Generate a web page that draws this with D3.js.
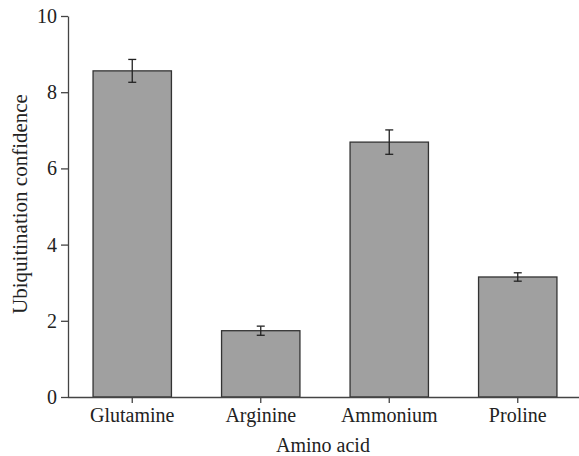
<!DOCTYPE html>
<html>
<head>
<meta charset="utf-8">
<script src="https://cdn.jsdelivr.net/npm/d3@7"></script>
<style>
  body { margin: 0; background: #fff; }
  text { font-family: "Liberation Serif", "DejaVu Serif", serif; fill: #222; }
</style>
</head>
<body>
<svg width="579" height="456"></svg>
<script>
// chart data
var categories = ["Glutamine", "Arginine", "Ammonium", "Proline"];
var means = [8.56, 1.74, 6.69, 3.15];
var errors = [0.30, 0.12, 0.32, 0.11];
var yTicks = [0, 2, 4, 6, 8, 10];

(function(){
  var svg = d3.select("svg");
  var mLeft = 68, mRight = 582, mTop = 16, mBottom = 397;

  var x = d3.scaleBand()
    .domain(categories)
    .range([mLeft, mRight])
    .paddingInner(0.39)
    .paddingOuter(0.195);

  var y = d3.scaleLinear().domain([0, 10]).range([mBottom, mTop]);

  var rows = categories.map(function(c, i){ return {name: c, v: means[i], e: errors[i]}; });

  // bars
  svg.selectAll(".bar").data(rows).enter().append("rect")
    .attr("class", "bar")
    .attr("x", function(d){ return x(d.name); })
    .attr("y", function(d){ return y(d.v); })
    .attr("width", x.bandwidth())
    .attr("height", function(d){ return y(0) - y(d.v); })
    .attr("fill", "#a0a0a0")
    .attr("stroke", "#333")
    .attr("stroke-width", 1.3);

  // error bars
  var eb = svg.selectAll(".err").data(rows).enter().append("g")
    .attr("class", "err")
    .attr("stroke", "#222")
    .attr("stroke-width", 1.3);
  eb.append("line")
    .attr("x1", function(d){ return x(d.name) + x.bandwidth()/2; })
    .attr("x2", function(d){ return x(d.name) + x.bandwidth()/2; })
    .attr("y1", function(d){ return y(d.v + d.e); })
    .attr("y2", function(d){ return y(d.v - d.e); });
  eb.selectAll(".cap").data(function(d){ return [d.v + d.e, d.v - d.e].map(function(t){ return {name: d.name, t: t}; }); })
    .enter().append("line")
    .attr("x1", function(d){ return x(d.name) + x.bandwidth()/2 - 4; })
    .attr("x2", function(d){ return x(d.name) + x.bandwidth()/2 + 4; })
    .attr("y1", function(d){ return y(d.t); })
    .attr("y2", function(d){ return y(d.t); });

  // axes
  var yAxis = svg.append("g")
    .attr("transform", "translate(" + mLeft + ",0)")
    .call(d3.axisLeft(y).tickValues(yTicks).tickSize(7).tickPadding(4).tickSizeOuter(0));

  var xAxis = svg.append("g")
    .attr("transform", "translate(0," + mBottom + ")")
    .call(d3.axisBottom(x).tickSize(6).tickPadding(5).tickSizeOuter(0));

  [yAxis, xAxis].forEach(function(a){
    a.attr("font-family", "Liberation Serif, serif");
    a.selectAll("path, line").attr("stroke", "#444").attr("stroke-width", 1.3);
    a.selectAll("text").attr("font-family", "Liberation Serif, serif")
      .style("font-size", "20px").attr("fill", "#222");
  });
  xAxis.select(".domain").attr("d", "M" + mLeft + ",0.5H579");

  // axis titles
  svg.append("text")
    .attr("x", 323)
    .attr("y", 452)
    .attr("text-anchor", "middle")
    .style("font-size", "20px")
    .text("Amino acid");

  svg.append("text")
    .attr("transform", "translate(27,204) rotate(-90)")
    .attr("text-anchor", "middle")
    .style("font-size", "21px")
    .text("Ubiquitination confidence");
})();
</script>
</body>
</html>
